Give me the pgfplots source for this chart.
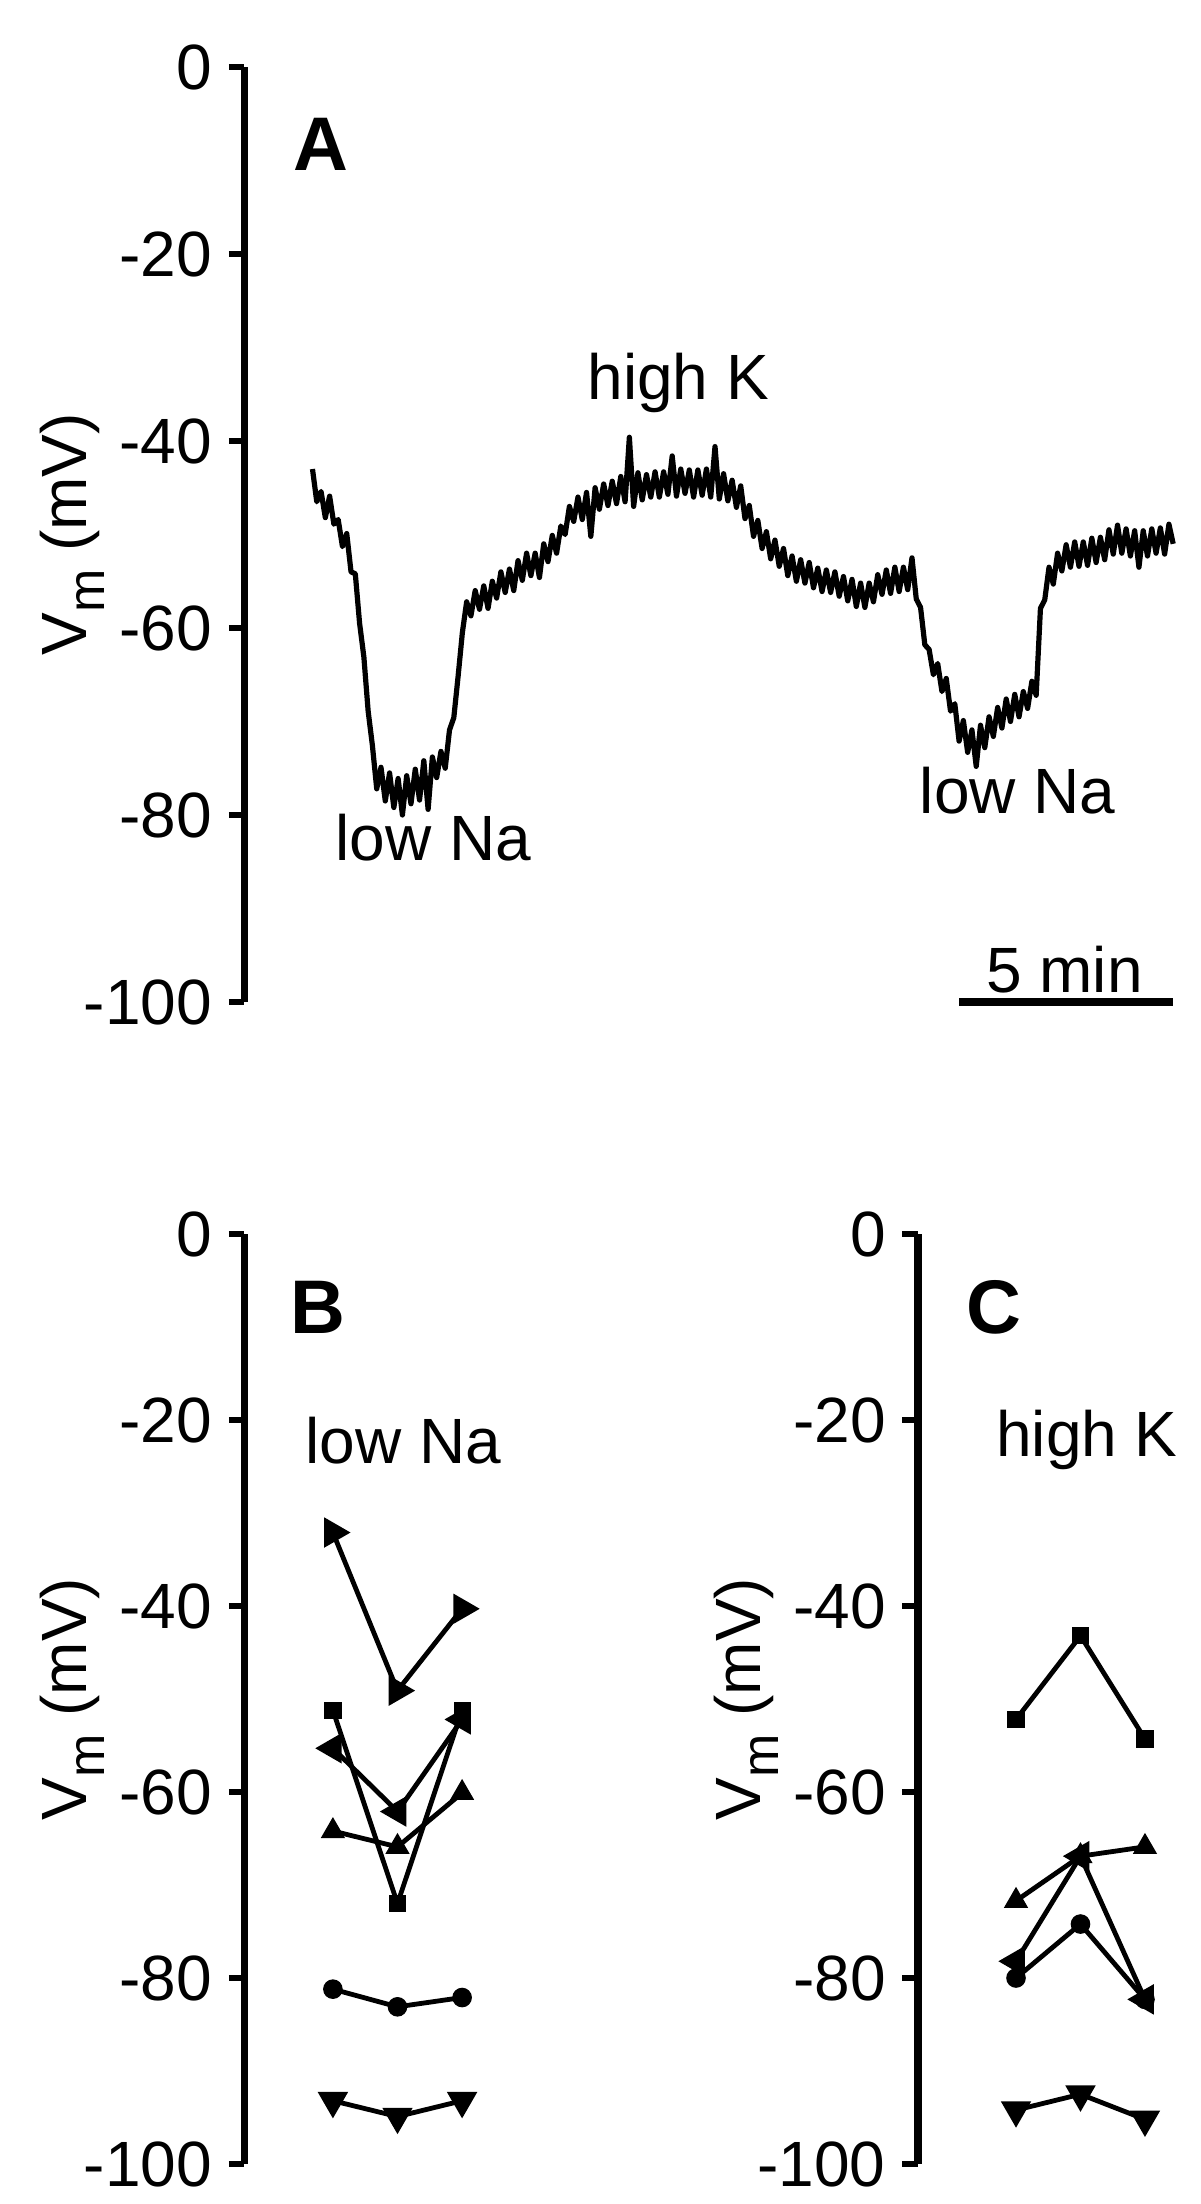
\documentclass[border=0pt]{standalone}
\usepackage{fontspec}
\setmainfont{Liberation Sans}
\usepackage{pgfplots}
\pgfplotsset{compat=1.18}

\newcommand{\lblfont}{\fontsize{16}{18}\selectfont}
\newcommand{\panelfont}{\fontsize{19}{21}\selectfont\bfseries}
\newcommand{\vmlabel}{V\raisebox{-4.5pt}{\fontsize{13}{13}\selectfont m} (mV)}

\pgfplotsset{
  vmaxis/.style={
    scale only axis,
    anchor=south west,
    axis lines*=left,
    axis x line=none,
    ymin=-100, ymax=0,
    ytick={-100,-80,-60,-40,-20,0},
    yticklabels={-100,-80,-60,-40,-20,0},
    tick align=outside,
    major tick length=3.9pt,
    axis line style={line width=1.8pt},
    every tick/.style={line width=1.7pt, black},
    ticklabel style={font=\lblfont},
    yticklabel style={inner sep=0pt, xshift=-4pt},
    clip=false,
  },
  cell/.style={black, line width=1.2pt, mark options={solid, fill=black, line width=0.3pt}},
  sq/.style={cell, mark=square*, mark size=2.0pt},
  ci/.style={cell, mark=*, mark size=2.3pt},
  tu/.style={cell, mark=triangle*, mark size=3.2pt},
  td/.style={cell, mark=triangle*, mark size=3.2pt, mark options={rotate=180}},
  tl/.style={cell, mark=triangle*, mark size=3.2pt, mark options={rotate=90}},
  tr/.style={cell, mark=triangle*, mark size=3.2pt, mark options={rotate=-90}},
}

\begin{document}
\begin{tikzpicture}
\path[use as bounding box] (0,0) rectangle (300pt,551pt);

% A: membrane potential trace, time in minutes
\begin{axis}[vmaxis, at={(61.1pt,300.5pt)}, width=232.2pt, height=233.75pt,
  xmin=-1.59, xmax=20.1]
\addplot[black, line width=1.3pt, line join=round] coordinates {
(0.0,-43.0) (0.1,-46.5) (0.2,-45.4) (0.3,-48.2) (0.4,-45.9) (0.5,-48.9)
(0.6,-48.4) (0.7,-51.3) (0.8,-49.9) (0.9,-54.0) (1.0,-54.2) (1.1,-59.5)
(1.2,-63.1) (1.3,-68.9) (1.4,-72.6) (1.5,-77.2) (1.6,-74.9) (1.7,-78.5)
(1.8,-75.5) (1.9,-79.2) (2.0,-76.1) (2.1,-80.0) (2.2,-75.8) (2.3,-78.8)
(2.4,-75.1) (2.5,-78.4) (2.6,-74.2) (2.7,-79.4) (2.8,-73.8) (2.9,-76.0)
(3.0,-73.2) (3.1,-75.0) (3.2,-70.9) (3.3,-69.6) (3.4,-65.2) (3.5,-60.5)
(3.6,-57.2) (3.7,-58.7) (3.8,-56.0) (3.9,-58.0) (4.0,-55.5) (4.1,-57.9)
(4.2,-55.0) (4.3,-56.8) (4.4,-54.0) (4.5,-56.2) (4.6,-53.7) (4.7,-56.0)
(4.8,-52.8) (4.9,-54.9) (5.0,-52.0) (5.1,-54.4) (5.2,-52.0) (5.3,-54.6)
(5.4,-51.0) (5.5,-52.9) (5.6,-50.1) (5.7,-52.0) (5.8,-49.1) (5.9,-50.0)
(6.0,-47.0) (6.1,-48.6) (6.2,-46.0) (6.3,-48.4) (6.4,-45.5) (6.5,-50.2)
(6.6,-45.0) (6.7,-47.3) (6.8,-44.6) (6.9,-46.9) (7.0,-44.3) (7.1,-46.7)
(7.2,-43.8) (7.3,-46.5) (7.4,-39.6) (7.5,-47.0) (7.6,-43.4) (7.7,-46.3)
(7.8,-43.6) (7.9,-46.0) (8.0,-43.3) (8.1,-46.0) (8.2,-43.3) (8.3,-45.7)
(8.4,-41.6) (8.5,-45.9) (8.6,-43.0) (8.7,-45.6) (8.8,-43.1) (8.9,-46.0)
(9.0,-43.1) (9.1,-45.8) (9.2,-43.0) (9.3,-46.0) (9.4,-40.6) (9.5,-46.2)
(9.6,-43.5) (9.7,-46.4) (9.8,-44.2) (9.9,-47.1) (10.0,-44.8) (10.1,-48.3)
(10.2,-46.9) (10.3,-50.2) (10.4,-48.5) (10.5,-51.5) (10.6,-49.7) (10.7,-52.6)
(10.8,-50.6) (10.9,-53.4) (11.0,-51.5) (11.1,-54.4) (11.2,-52.3) (11.3,-55.0)
(11.4,-52.7) (11.5,-55.2) (11.6,-53.0) (11.7,-55.7) (11.8,-53.6) (11.9,-56.1)
(12.0,-53.8) (12.1,-56.2) (12.2,-54.0) (12.3,-56.6) (12.4,-54.5) (12.5,-57.1)
(12.6,-54.8) (12.7,-57.7) (12.8,-55.2) (12.9,-57.8) (13.0,-55.2) (13.1,-57.2)
(13.2,-54.3) (13.3,-56.4) (13.4,-53.8) (13.5,-56.3) (13.6,-53.5) (13.7,-56.1)
(13.8,-53.5) (13.9,-55.9) (14.0,-52.5) (14.1,-56.9) (14.2,-57.8) (14.3,-61.8)
(14.4,-62.3) (14.5,-65.0) (14.6,-63.8) (14.7,-66.8) (14.8,-65.4) (14.9,-68.9)
(15.0,-68.1) (15.1,-72.1) (15.2,-69.9) (15.3,-73.3) (15.4,-70.9) (15.5,-74.8)
(15.6,-70.4) (15.7,-72.8) (15.8,-69.5) (15.9,-71.6) (16.0,-68.5) (16.1,-70.7)
(16.2,-67.6) (16.3,-70.0) (16.4,-67.1) (16.5,-69.5) (16.6,-66.8) (16.7,-68.6)
(16.8,-65.7) (16.9,-67.2) (17.0,-57.9) (17.1,-57.0) (17.2,-53.5) (17.3,-55.3)
(17.4,-52.0) (17.5,-53.9) (17.6,-51.1) (17.7,-53.5) (17.8,-50.8) (17.9,-53.4)
(18.0,-50.8) (18.1,-53.3) (18.2,-50.4) (18.3,-53.0) (18.4,-50.3) (18.5,-52.7)
(18.6,-49.5) (18.7,-52.1) (18.8,-49.0) (18.9,-52.0) (19.0,-49.4) (19.1,-52.3)
(19.2,-49.6) (19.3,-53.5) (19.4,-49.6) (19.5,-52.3) (19.6,-49.4) (19.7,-52.0)
(19.8,-49.3) (19.9,-52.1) (20.0,-48.9) (20.1,-51.0)
};
\node[rotate=90, anchor=base, font=\lblfont] at ([xshift=-39.4pt]rel axis cs:0,0.5) {\vmlabel};
\node[font=\panelfont] at (axis cs:0.19,-8.3) {A};
\node[font=\lblfont] at (axis cs:8.54,-33.8) {high K};
\node[font=\lblfont] at (axis cs:2.82,-82.4) {low Na};
\node[font=\lblfont] at (axis cs:16.47,-77.4) {low Na};
\node[font=\lblfont] at (axis cs:17.56,-96.5) {5 min};
\draw[line width=1.8pt] (axis cs:15.1,-100) -- (axis cs:20.1,-100);
\end{axis}

% B: low Na, before / during / after
\begin{axis}[vmaxis, at={(61.1pt,10pt)}, width=62.5pt, height=232.5pt,
  xmin=-0.37, xmax=3.5]
\addplot[tr] coordinates {(1,-32.1) (2,-49.1) (3,-40.3)};
\addplot[sq] coordinates {(1,-51.2) (2,-72.0) (3,-51.2)};
\addplot[tl] coordinates {(1,-55.3) (2,-62.1) (3,-52.2)};
\addplot[tu] coordinates {(1,-64.2) (2,-65.9) (3,-60.1)};
\addplot[ci] coordinates {(1,-81.2) (2,-83.1) (3,-82.1)};
\addplot[td] coordinates {(1,-93.2) (2,-94.9) (3,-93.2)};
\node[rotate=90, anchor=base, font=\lblfont] at ([xshift=-39.4pt]rel axis cs:0,0.5) {\vmlabel};
\node[font=\panelfont] at (axis cs:0.77,-7.9) {B};
\node[font=\lblfont] at (axis cs:2.09,-22.2) {low Na};
\end{axis}

% C: high K, before / during / after
\begin{axis}[vmaxis, at={(229.5pt,10pt)}, width=64.8pt, height=232.5pt,
  xmin=-0.52, xmax=3.5]
\addplot[sq] coordinates {(1,-52.2) (2,-43.2) (3,-54.3)};
\addplot[tu] coordinates {(1,-71.7) (2,-66.9) (3,-65.9)};
\addplot[tl] coordinates {(1,-78.2) (2,-66.9) (3,-82.3)};
\addplot[ci] coordinates {(1,-80.0) (2,-74.2) (3,-82.3)};
\addplot[td] coordinates {(1,-94.2) (2,-92.5) (3,-95.2)};
\node[rotate=90, anchor=base, font=\lblfont] at ([xshift=-39.4pt]rel axis cs:0,0.5) {\vmlabel};
\node[font=\panelfont] at (axis cs:0.66,-7.9) {C};
\node[font=\lblfont] at (axis cs:2.1,-22.2) {high K};
\end{axis}
\end{tikzpicture}
\end{document}
